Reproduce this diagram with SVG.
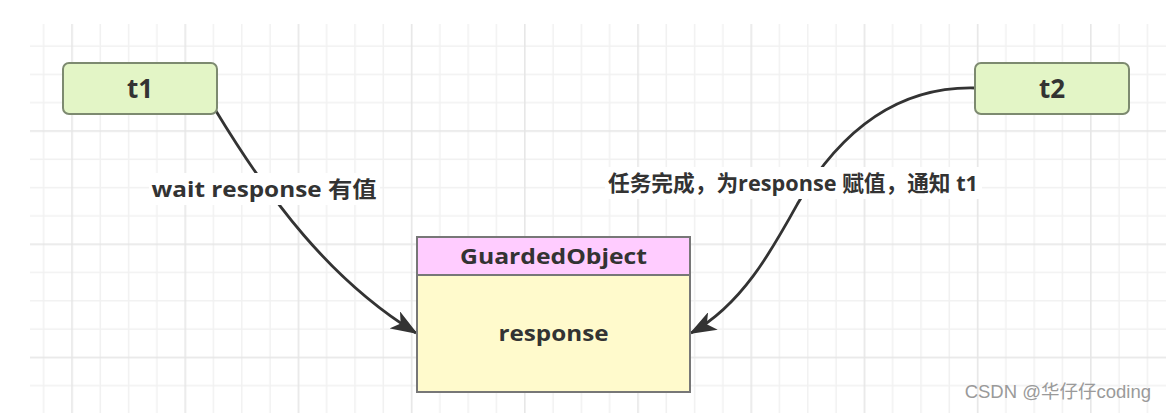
<svg xmlns="http://www.w3.org/2000/svg" width="1166" height="413" viewBox="0 0 1166 413">
<style>
.txt{font-family:"Open Sans","Noto Sans CJK SC",sans-serif;font-weight:bold;fill:#333333}
.thread{fill:#e3f5c6;stroke:#7d8a70;stroke-width:2}
.edge{fill:none;stroke:#333333;stroke-width:2.8}
</style>
<defs>
<pattern id="grid" patternUnits="userSpaceOnUse" x="71.25" y="130.25" width="113.2" height="113.2">
<rect x="28.3" y="0" width="1.5" height="113.2" fill="#f1f1f1"/>
<rect x="56.6" y="0" width="1.5" height="113.2" fill="#f1f1f1"/>
<rect x="84.9" y="0" width="1.5" height="113.2" fill="#f1f1f1"/>
<rect x="0" y="28.3" width="113.2" height="1.5" fill="#f1f1f1"/>
<rect x="0" y="56.6" width="113.2" height="1.5" fill="#f1f1f1"/>
<rect x="0" y="84.9" width="113.2" height="1.5" fill="#f1f1f1"/>
<rect x="0" y="0" width="1.6" height="113.2" fill="#e6e6e6"/>
<rect x="0" y="0" width="113.2" height="1.6" fill="#e6e6e6"/>
</pattern>
<marker id="arrow" viewBox="0 0 27 20" refX="25" refY="10" markerWidth="27" markerHeight="20" markerUnits="userSpaceOnUse" orient="auto">
<path d="M0,0 L27,10 L0,20 L7,10 Z" fill="#333333"/>
</marker>
</defs>
<rect width="1166" height="413" fill="#ffffff"/>
<rect x="30" y="24" width="1136" height="389" fill="url(#grid)"/>

<g id="connectors">
<path class="edge" d="M216,111 C270,200 330,280 416,333" marker-end="url(#arrow)"/>
<path class="edge" d="M975,88 C890,86 835,140 798,203 C772,250 742,305 691,333" marker-end="url(#arrow)"/>
<g id="label-t1">
<rect x="149" y="173" width="231" height="32" fill="#ffffff"/>
<text class="txt" x="264" y="197" font-size="22" text-anchor="middle" textLength="225" lengthAdjust="spacingAndGlyphs">wait response 有值</text>
</g>
<g id="label-t2">
<rect x="605" y="167" width="377" height="32" fill="#ffffff"/>
<text class="txt" x="793" y="191" font-size="22" text-anchor="middle" textLength="370" lengthAdjust="spacingAndGlyphs">任务完成，为response 赋值，通知 t1</text>
</g>
</g>

<g id="t1">
<rect class="thread" x="63" y="63" width="154" height="51" rx="6"/>
<text class="txt" x="140" y="98" font-size="26" text-anchor="middle">t1</text>
</g>

<g id="t2">
<rect class="thread" x="975" y="63" width="154" height="51" rx="6"/>
<text class="txt" x="1052" y="98" font-size="26" text-anchor="middle">t2</text>
</g>

<g id="guardedObject">
<rect x="417" y="237" width="273" height="155" fill="#fffacc" stroke="#777777" stroke-width="2"/>
<rect x="417" y="237" width="273" height="38" fill="#ffccff" stroke="#777777" stroke-width="2"/>
<text class="txt" x="553.5" y="264" font-size="22" text-anchor="middle" textLength="187" lengthAdjust="spacingAndGlyphs">GuardedObject</text>
<text class="txt" x="553.5" y="341" font-size="22" text-anchor="middle" textLength="110" lengthAdjust="spacingAndGlyphs">response</text>
</g>

<text x="1151" y="398" font-family="'Liberation Sans','Noto Sans CJK SC',sans-serif" font-size="18.5" fill="#9a9a9a" text-anchor="end">CSDN @华仔仔coding</text>
</svg>
